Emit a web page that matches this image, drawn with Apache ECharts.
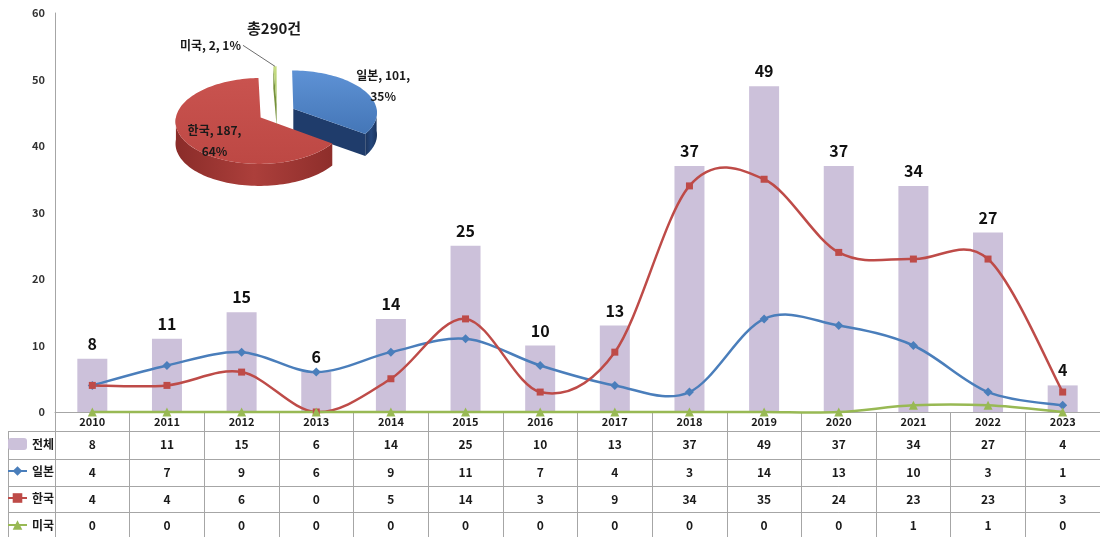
<!DOCTYPE html>
<html>
<head>
<meta charset="utf-8">
<script src="https://cdn.jsdelivr.net/npm/echarts@6/dist/echarts.min.js"></script>
<style>
html,body{margin:0;padding:0;background:#fff;}
#main{width:1100px;height:537px;}
</style>
</head>
<body>
<div id="main"></div>
<script>
// ---- data ----
const years = ['2010','2011','2012','2013','2014','2015','2016','2017','2018','2019','2020','2021','2022','2023'];
const totalCounts = [8, 11, 15, 6, 14, 25, 10, 13, 37, 49, 37, 34, 27, 4];
const japanCounts = [4, 7, 9, 6, 9, 11, 7, 4, 3, 14, 13, 10, 3, 1];
const koreaCounts = [4, 4, 6, 0, 5, 14, 3, 9, 34, 35, 24, 23, 23, 3];
const usaCounts   = [0, 0, 0, 0, 0, 0, 0, 0, 0, 0, 0, 1, 1, 0];
const seriesNames = ['전체', '일본', '한국', '미국'];
const yMin = 0, yMax = 60, yStep = 10;

// country shares for the inset pie (sums of the yearly rows)
const sum = arr => arr.reduce((a, b) => a + b, 0);
const pieNames = ['일본', '한국', '미국'];
const pieValues = [sum(japanCounts), sum(koreaCounts), sum(usaCounts)];
const pieTotal = sum(pieValues);

// ---- layout / style ----
const FONT = "'Noto Sans CJK KR', 'Noto Sans', sans-serif";
const GRID = { left: 55, right: -5, top: 13, bottom: 125 };
const CHART_H = 537;
const AXIS_Y = CHART_H - GRID.bottom;
const ROW_OFFSETS = [19, 47, 74, 100];           // table row borders below the category axis
const tableRows = [totalCounts, japanCounts, koreaCounts, usaCounts];
const RULE = '#a6a6a6';
const COLORS = { total: '#ccc1da', japan: '#4a7ebb', korea: '#be4b48', usa: '#98b954' };

// 3D pie geometry (pixels)
const PIE = { cx: 277, cy: 113, rx: 84, ry: 42, persp: 0.08, depth: 22, explode: 0.22 };
const lin = (x, y, x2, y2, stops) => new echarts.graphic.LinearGradient(x, y, x2, y2,
  stops.map((c, i) => ({ offset: i / (stops.length - 1), color: c })));
const pieStyles = [
  { top: lin(0, 0, 0, 1, ['#5e92d5', '#4476b7']), rim: lin(0, 0, 1, 0, ['#1b345d', '#25477c', '#1b345d']), cut: '#1f3c6b' },
  { top: lin(0, 0, 0, 1, ['#c9534f', '#bd4844']), rim: lin(0, 0, 1, 0, ['#8a2c29', '#ac3f3b', '#8e2e2b']), cut: '#9a3431' },
  { top: lin(0, 0, 0, 1, ['#c9de85', '#9bbb59']), rim: '#76923c', cut: '#76923c' }
];

function project(u, v) {
  const d = 1 - PIE.persp * v;
  return [PIE.cx + PIE.rx * u / d, PIE.cy + PIE.ry * v / d];
}

function renderPieSlice(params) {
  const i = params.dataIndex;
  let before = 0;
  for (let k = 0; k < i; k++) before += pieValues[k];
  const a0 = before / pieTotal * 360;
  const a1 = (before + pieValues[i]) / pieTotal * 360;
  const mid = (a0 + a1) / 2;
  const rad = d => d * Math.PI / 180;
  const ou = PIE.explode * Math.sin(rad(mid));
  const ov = -PIE.explode * Math.cos(rad(mid));
  const pt = (a, r) => project(ou + r * Math.sin(rad(a)), ov - r * Math.cos(rad(a)));
  const down = p => [p[0], p[1] + PIE.depth];
  const arc = (s, e) => {
    const pts = [];
    const n = Math.max(2, Math.ceil((e - s) / 2));
    for (let j = 0; j <= n; j++) pts.push(pt(s + (e - s) * j / n, 1));
    return pts;
  };
  const apex = pt(0, 0);
  const st = pieStyles[i];
  const children = [];

  // radial cut faces turned toward the viewer
  const cutFace = a => ({
    type: 'polygon',
    shape: { points: [apex, pt(a, 1), down(pt(a, 1)), down(apex)] },
    style: { fill: st.cut }
  });
  if (-Math.sin(rad(a0)) > 0.02) children.push(cutFace(a0));
  if (Math.sin(rad(a1)) > 0.02) children.push(cutFace(a1));

  // outer rim on the front half
  const s = Math.max(a0, 90), e = Math.min(a1, 270);
  if (e > s) {
    const top = arc(s, e);
    const bottom = top.map(down).reverse();
    children.push({ type: 'polygon', shape: { points: top.concat(bottom) }, style: { fill: st.rim } });
  }

  // top face
  children.push({ type: 'polygon', shape: { points: [apex].concat(arc(a0, a1)) }, style: { fill: st.top } });

  // label
  const v = pieValues[i];
  const share = v / pieTotal;
  const pct = Math.round(share * 100);
  const textStyle = { fontFamily: FONT, fontSize: 12, fontWeight: 'bold', fill: '#1a1a1a', lineHeight: 21 };
  if (share < 0.05) {
    const p = pt(mid, 1);
    const elbow = [p[0] - 32, p[1] - 21];
    children.push({ type: 'polyline', shape: { points: [p, elbow] }, style: { stroke: '#6e6e6e', lineWidth: 1, fill: null } });
    children.push({ type: 'text', style: Object.assign({ text: pieNames[i] + ', ' + v + ', ' + pct + '%', x: elbow[0] - 2, y: elbow[1], align: 'right', verticalAlign: 'middle' }, textStyle) });
  } else if (share > 0.5) {
    const p = pt(mid, 0.6);
    children.push({ type: 'text', style: Object.assign({ text: pieNames[i] + ', ' + v + ',\n' + pct + '%', x: p[0], y: p[1] + PIE.depth / 2, align: 'center', verticalAlign: 'middle' }, textStyle) });
  } else {
    const p = pt(mid, 1.28);
    children.push({ type: 'text', style: Object.assign({ text: pieNames[i] + ', ' + v + ',\n' + pct + '%', x: p[0], y: p[1], align: 'center', verticalAlign: 'middle' }, textStyle) });
  }
  return { type: 'group', children };
}

// Smooth curve through the points of one series: cubic Bezier segments
// with Catmull-Rom tangents, positioned by the cartesian axes.
function curveSeries(name, values, color) {
  const n = values.length;
  return {
    name: name + ' curve',
    type: 'custom',
    coordinateSystem: 'cartesian2d',
    silent: true,
    z: 3,
    data: values.map((v, i) => [i, v]),
    encode: { x: 0, y: 1 },
    renderItem: (params, api) => {
      const i = params.dataIndex;
      if (i >= n - 1) return null;
      const P = k => api.coord([Math.min(Math.max(k, 0), n - 1), values[Math.min(Math.max(k, 0), n - 1)]]);
      const p0 = P(i - 1), p1 = P(i), p2 = P(i + 1), p3 = P(i + 2);
      return {
        type: 'bezierCurve',
        shape: {
          x1: p1[0], y1: p1[1],
          cpx1: p1[0] + (p2[0] - p0[0]) / 6, cpy1: p1[1] + (p2[1] - p0[1]) / 6,
          cpx2: p2[0] - (p3[0] - p1[0]) / 6, cpy2: p2[1] - (p3[1] - p1[1]) / 6,
          x2: p2[0], y2: p2[1]
        },
        style: { stroke: color, lineWidth: 2.5, fill: null }
      };
    }
  };
}

// ---- chart ----
const chart = echarts.init(document.getElementById('main'));

const labelFont = { fontFamily: FONT, fontWeight: 'bold', color: '#1a1a1a' };

const xAxes = [{
  type: 'category',
  data: years,
  position: 'bottom',
  axisLine: { onZero: false, lineStyle: { color: RULE, width: 1 } },
  axisTick: { show: true, alignWithLabel: false, length: GRID.bottom, lineStyle: { color: RULE } },
  axisLabel: Object.assign({ interval: 0, margin: 4, fontSize: 11 }, labelFont)
}].concat(tableRows.map((row, r) => ({
  type: 'category',
  data: years,
  position: 'bottom',
  offset: ROW_OFFSETS[r],
  axisLine: { onZero: false, lineStyle: { color: RULE, width: 1 } },
  axisTick: { show: false },
  axisLabel: Object.assign({ interval: 0, margin: 7, fontSize: 12, formatter: (val, idx) => String(row[idx]) }, labelFont)
})));

const markerCommon = {
  type: 'line',
  lineStyle: { opacity: 0 },
  z: 4
};

const option = {
  animation: false,
  backgroundColor: '#ffffff',
  textStyle: { fontFamily: FONT },
  title: {
    text: '총' + pieTotal + '건',
    left: 247, top: 21, padding: 0,
    textStyle: { fontFamily: FONT, fontSize: 15, fontWeight: 'bold', color: '#1a1a1a' }
  },
  legend: {
    orient: 'vertical',
    left: 7,
    top: 438,
    padding: 0,
    itemWidth: 19,
    itemHeight: 12,
    itemGap: 15,
    selectedMode: false,
    data: seriesNames,
    lineStyle: { opacity: 1, width: 2 },
    textStyle: { fontFamily: FONT, fontSize: 12, fontWeight: 'bold', color: '#1a1a1a', lineHeight: 12 }
  },
  grid: { left: GRID.left, right: GRID.right, top: GRID.top, bottom: GRID.bottom, containLabel: false },
  xAxis: xAxes,
  yAxis: {
    type: 'value',
    min: yMin, max: yMax, interval: yStep,
    axisLine: { show: true, lineStyle: { color: RULE } },
    axisTick: { show: false },
    splitLine: { show: false },
    axisLabel: { margin: 10, fontSize: 11, color: '#333', fontFamily: FONT, fontWeight: 'bold' }
  },
  graphic: ROW_OFFSETS.map(o => ({
    type: 'line', silent: true,
    shape: { x1: 8, y1: AXIS_Y + o + 0.5, x2: GRID.left, y2: AXIS_Y + o + 0.5 },
    style: { stroke: RULE, lineWidth: 1 }
  })).concat([{
    type: 'line', silent: true,
    shape: { x1: 8.5, y1: AXIS_Y + ROW_OFFSETS[0], x2: 8.5, y2: CHART_H },
    style: { stroke: RULE, lineWidth: 1 }
  }]),
  series: [
    {
      name: '전체', type: 'bar', data: totalCounts, barWidth: 30,
      itemStyle: { color: COLORS.total },
      label: { show: true, position: 'top', distance: 7, fontFamily: FONT, fontSize: 16, fontWeight: 'bold', color: '#111' },
      z: 2
    },
    curveSeries('일본', japanCounts, COLORS.japan),
    curveSeries('한국', koreaCounts, COLORS.korea),
    curveSeries('미국', usaCounts, COLORS.usa),
    Object.assign({}, markerCommon, { name: '일본', data: japanCounts, symbol: 'diamond', symbolSize: 9, itemStyle: { color: COLORS.japan } }),
    Object.assign({}, markerCommon, { name: '한국', data: koreaCounts, symbol: 'rect', symbolSize: 7, itemStyle: { color: COLORS.korea } }),
    Object.assign({}, markerCommon, { name: '미국', data: usaCounts, symbol: 'triangle', symbolSize: 9, itemStyle: { color: COLORS.usa } }),
    {
      name: 'share', type: 'custom', coordinateSystem: 'none', silent: true, z: 10,
      data: pieValues.map((v, i) => ({ name: pieNames[i], value: v })),
      renderItem: renderPieSlice
    }
  ]
};

chart.setOption(option);
</script>
</body>
</html>
